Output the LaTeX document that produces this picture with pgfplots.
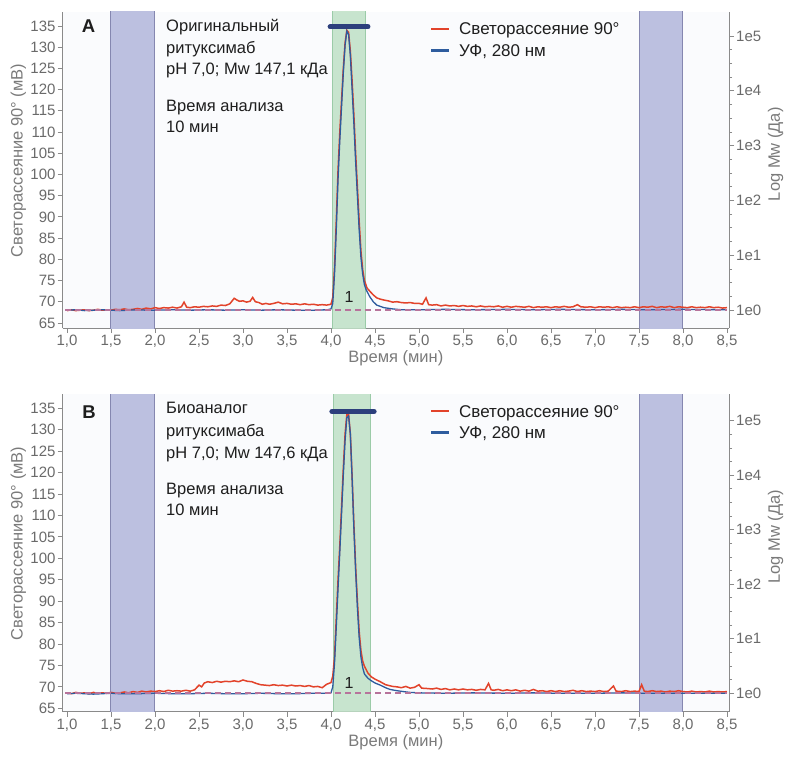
\documentclass[border=0pt]{standalone}
\usepackage{fontspec}
\setmainfont{Liberation Sans}
\usepackage{pgfplots}
\usepackage{pgfplotstable}
\pgfplotsset{compat=1.18}

\definecolor{lsred}{HTML}{E2432B}
\definecolor{uvblue}{HTML}{2E5C9E}
\definecolor{bandfill}{HTML}{BCC0E0}
\definecolor{bandedge}{HTML}{8587B0}
\definecolor{greenfill}{HTML}{BFE0C6}
\definecolor{greenedge}{HTML}{9BCBA8}
\definecolor{mwdash}{HTML}{B7739B}
\definecolor{mwbar}{HTML}{2C3F7C}
\definecolor{axisgray}{HTML}{8A8A8A}
\definecolor{ticktext}{HTML}{6A6A6A}
\definecolor{labelgray}{HTML}{7A7A7A}
\definecolor{textdark}{HTML}{1E1E1E}
\definecolor{plotbg}{HTML}{FAFBFD}

% panel A, light scattering
\pgfplotstableread{
x y
1.00 67.9
1.05 68.1
1.10 67.9
1.15 68.0
1.20 68.1
1.25 67.9
1.30 68.0
1.35 68.2
1.40 68.0
1.45 68.1
1.50 68.0
1.55 68.2
1.60 68.1
1.65 68.3
1.70 68.1
1.75 68.2
1.80 68.4
1.85 68.2
1.90 68.5
1.95 68.3
2.00 68.6
2.05 68.4
2.10 68.6
2.15 68.5
2.20 68.7
2.25 68.5
2.30 68.8
2.33 69.9
2.36 68.7
2.40 68.6
2.45 68.8
2.50 68.7
2.55 68.9
2.60 68.8
2.65 69.0
2.70 68.9
2.75 69.2
2.80 69.1
2.85 69.5
2.90 70.8
2.93 70.4
2.96 70.1
3.00 70.2
3.04 69.9
3.08 70.1
3.11 71.0
3.14 70.0
3.18 69.8
3.22 69.4
3.26 69.6
3.30 69.4
3.35 69.6
3.40 69.9
3.45 69.5
3.50 69.6
3.55 69.4
3.60 69.5
3.65 69.3
3.70 69.5
3.75 69.3
3.80 69.4
3.85 69.2
3.90 69.3
3.95 69.2
4.00 69.4
4.02 71.0
4.04 78.0
4.06 89.0
4.08 101.0
4.10 110.0
4.12 117.5
4.14 125.0
4.16 131.0
4.18 134.0
4.20 133.5
4.22 129.0
4.24 122.0
4.26 114.0
4.28 105.0
4.30 97.0
4.32 89.0
4.34 82.0
4.36 77.5
4.38 75.0
4.41 73.2
4.44 72.5
4.48 71.6
4.52 70.9
4.56 70.6
4.60 70.4
4.65 70.2
4.70 69.9
4.75 70.0
4.80 69.8
4.85 69.7
4.90 69.8
4.95 69.6
5.00 69.6
5.04 69.4
5.08 70.9
5.11 69.3
5.15 69.2
5.20 69.3
5.25 69.0
5.30 69.2
5.35 69.0
5.40 69.1
5.45 68.9
5.50 69.1
5.55 68.9
5.60 69.0
5.65 68.8
5.70 69.0
5.75 68.8
5.80 68.9
5.85 68.8
5.90 69.0
5.95 68.7
6.00 68.9
6.05 68.7
6.10 68.9
6.15 68.8
6.20 68.7
6.25 68.9
6.30 68.6
6.35 68.8
6.40 68.7
6.45 68.8
6.50 68.6
6.55 68.8
6.60 68.7
6.65 68.9
6.70 68.7
6.75 68.8
6.80 69.3
6.84 68.8
6.90 68.7
6.95 68.8
7.00 68.6
7.05 68.8
7.10 68.7
7.15 68.8
7.20 68.6
7.25 68.8
7.30 68.6
7.35 68.7
7.40 68.6
7.45 68.8
7.50 68.6
7.55 68.8
7.60 68.7
7.65 68.9
7.70 68.6
7.75 68.8
7.80 68.7
7.85 68.9
7.90 68.6
7.95 68.8
8.00 68.7
8.05 68.6
8.10 68.8
8.15 68.6
8.20 68.7
8.25 68.6
8.30 68.8
8.35 68.6
8.40 68.7
8.45 68.5
8.50 68.6
}\redA

% panel A, UV 280 nm
\pgfplotstableread{
x y
1.00 68.0
1.10 68.1
1.20 67.9
1.30 68.0
1.40 68.1
1.50 68.0
1.60 67.9
1.70 68.0
1.80 68.1
1.90 68.0
2.00 68.0
2.20 68.1
2.40 68.0
2.60 68.1
2.80 68.0
3.00 68.1
3.20 68.0
3.40 68.1
3.60 68.0
3.80 68.0
3.96 68.1
4.00 68.3
4.02 69.6
4.04 76.5
4.06 87.0
4.08 99.0
4.10 108.0
4.12 116.0
4.14 124.0
4.16 130.5
4.18 133.8
4.20 133.0
4.22 128.0
4.24 120.0
4.26 112.0
4.28 103.0
4.30 95.0
4.32 87.0
4.34 80.5
4.36 76.5
4.38 74.0
4.40 72.8
4.44 71.2
4.48 70.0
4.52 69.2
4.60 68.6
4.70 68.3
4.80 68.1
5.00 68.1
5.30 68.2
5.60 68.1
6.00 68.2
6.30 68.1
6.60 68.2
7.00 68.1
7.30 68.2
7.60 68.1
8.00 68.2
8.50 68.1
}\blueA

% panel B, light scattering
\pgfplotstableread{
x y
1.00 68.6
1.05 68.4
1.10 68.7
1.15 68.5
1.20 68.6
1.25 68.4
1.30 68.7
1.35 68.5
1.40 68.6
1.45 68.5
1.50 68.7
1.55 68.5
1.60 68.6
1.65 68.8
1.70 68.6
1.75 68.9
1.80 68.7
1.85 69.0
1.90 68.8
1.95 69.0
2.00 68.9
2.05 69.1
2.10 68.9
2.15 69.2
2.20 69.0
2.25 69.1
2.30 69.0
2.35 69.2
2.40 69.0
2.45 69.3
2.50 70.4
2.53 70.0
2.56 70.9
2.60 71.2
2.65 71.0
2.70 71.3
2.75 71.1
2.80 71.3
2.85 71.2
2.90 71.4
2.95 71.2
3.00 71.6
3.05 71.3
3.10 71.2
3.15 70.8
3.20 70.5
3.25 70.4
3.30 70.3
3.35 70.5
3.40 70.3
3.45 70.4
3.50 70.2
3.55 70.4
3.60 70.2
3.65 70.3
3.70 70.1
3.75 70.3
3.80 70.0
3.85 70.1
3.90 69.8
3.95 70.6
4.00 71.0
4.02 72.5
4.04 77.0
4.06 86.0
4.08 95.0
4.10 103.0
4.12 112.0
4.14 121.0
4.16 129.0
4.18 133.5
4.20 133.6
4.22 129.0
4.24 119.0
4.26 108.0
4.28 98.0
4.30 90.0
4.32 83.0
4.34 78.5
4.36 76.0
4.38 74.8
4.42 73.2
4.46 72.3
4.50 71.8
4.56 71.2
4.62 70.5
4.70 70.1
4.75 70.0
4.80 69.8
4.85 70.1
4.90 69.7
4.95 69.9
5.00 70.5
5.03 69.7
5.10 69.6
5.15 69.5
5.20 69.7
5.25 69.4
5.30 69.6
5.35 69.3
5.40 69.5
5.45 69.3
5.50 69.5
5.55 69.3
5.60 69.4
5.65 69.2
5.70 69.4
5.75 69.3
5.79 70.8
5.82 69.3
5.85 69.2
5.90 69.4
5.95 69.1
6.00 69.3
6.05 69.1
6.10 69.3
6.15 69.0
6.20 69.2
6.25 69.0
6.30 69.4
6.35 69.0
6.40 69.1
6.45 68.9
6.50 69.1
6.55 68.9
6.60 69.1
6.65 68.9
6.70 69.0
6.75 69.2
6.80 68.9
6.85 69.1
6.90 68.9
6.95 69.0
7.00 68.9
7.05 69.1
7.10 68.9
7.15 69.0
7.21 70.2
7.24 69.0
7.30 68.9
7.35 69.1
7.40 68.9
7.45 69.0
7.50 68.9
7.53 70.5
7.56 69.0
7.60 68.9
7.65 69.1
7.70 68.9
7.75 69.0
7.80 68.8
7.85 69.0
7.90 68.9
7.95 69.1
8.00 68.9
8.05 68.8
8.10 69.0
8.15 68.8
8.20 68.9
8.25 68.8
8.30 69.0
8.35 68.8
8.40 68.9
8.45 68.8
8.50 68.9
}\redB

% panel B, UV 280 nm
\pgfplotstableread{
x y
1.00 68.4
1.10 68.5
1.20 68.4
1.30 68.3
1.40 68.4
1.50 68.5
1.60 68.4
1.80 68.4
2.00 68.5
2.20 68.4
2.40 68.4
2.60 68.5
2.80 68.4
3.00 68.4
3.20 68.5
3.40 68.4
3.60 68.4
3.80 68.5
3.96 68.5
4.00 68.6
4.02 70.0
4.04 75.5
4.06 84.0
4.08 93.0
4.10 101.5
4.12 110.5
4.14 119.5
4.16 127.5
4.18 132.8
4.20 133.2
4.22 129.0
4.24 118.5
4.26 107.0
4.28 97.0
4.30 88.5
4.32 81.5
4.34 77.0
4.36 74.5
4.38 73.0
4.42 72.0
4.46 71.4
4.50 70.9
4.56 70.4
4.62 69.8
4.67 69.4
4.75 69.1
4.82 68.9
4.90 68.7
5.00 68.6
5.30 68.5
5.60 68.6
6.00 68.5
6.30 68.6
6.60 68.5
7.00 68.5
7.30 68.6
7.60 68.5
8.00 68.5
8.50 68.5
}\blueB

\tikzset{paneltext/.style={anchor=base west, font=\fontsize{16.5}{19}\selectfont, text=textdark}}

\pgfplotsset{
  chartbase/.style={
    scale only axis, width=666.3pt,
    xmin=0.951, xmax=8.523,
    tick align=outside, major tick length=5pt, minor tick length=3pt,
    axis line style={axisgray, line width=1pt},
    tick style={axisgray, line width=0.8pt},
    tick label style={font=\fontsize{15}{18}\selectfont, text=ticktext, inner sep=2pt},
    label style={font=\fontsize{16.5}{19}\selectfont, text=labelgray},
    /pgf/number format/assume math mode=true,
  },
  leftax/.style={
    chartbase,
    axis x line*=bottom, axis y line*=left,
    xtick={1,1.5,...,8.5}, ytick={65,70,...,135},
    xticklabel style={/pgf/number format/fixed, /pgf/number format/fixed zerofill,
      /pgf/number format/precision=1, /pgf/number format/use comma},
    axis background/.style={fill=plotbg},
    xlabel={Время (мин)},
    xlabel style={at={(axis description cs:0.5,-0.096)}, anchor=center, inner sep=0pt},
    ylabel={Светорассеяние 90° (мВ)},
    ylabel style={at={(axis description cs:-0.0666,0.53)}, anchor=center},
    legend cell align=left,
    legend style={draw=none, fill=none, at={(axis description cs:0.5512,0.9684)},
      anchor=north west, inner sep=0pt, outer sep=0pt,
      /tikz/row sep=7.5pt, /tikz/column sep=8.7pt,
      font=\fontsize{17}{20}\selectfont,
      nodes={inner sep=0pt, text height=13pt, text depth=1pt, text=textdark}},
    legend image code/.code={\draw[##1, line width=2.5pt, solid] (0pt,0pt) -- (18pt,0pt);},
  },
  rightax/.style={
    chartbase,
    axis x line=none, axis y line*=right,
    ytick={0,1,2,3,4,5}, yticklabels={1e0,1e1,1e2,1e3,1e4,1e5},
    minor y tick num=3,
    ylabel={Log Mw (Да)},
    ylabel style={at={(axis description cs:1.0698,0.55)}, anchor=center},
  },
}

\begin{document}
\begin{tikzpicture}
\path[use as bounding box] (0,0) rectangle (786pt,756pt);

% ---------- panel A ----------
\begin{axis}[leftax, at={(62.7pt,428pt)}, anchor=south west, height=316pt,
  ymin=63.8, ymax=138.3]
\addplot[forget plot, fill=bandfill, draw=bandedge, line width=1pt] coordinates {(1.49,60) (1.49,140) (1.99,140) (1.99,60)} -- cycle;
\addplot[forget plot, fill=bandfill, draw=bandedge, line width=1pt] coordinates {(7.51,60) (7.51,140) (8.00,140) (8.00,60)} -- cycle;
\addplot[forget plot, fill=greenfill, fill opacity=0.85, draw=greenedge, line width=0.8pt] coordinates {(4.015,60) (4.015,140) (4.386,140) (4.386,60)} -- cycle;
\addplot[lsred, line width=1.5pt] table {\redA};
\addlegendentry{Светорассеяние 90°}
\addplot[uvblue, line width=1.3pt] table {\blueA};
\addlegendentry{УФ, 280 нм}
\node[font=\fontsize{18.5}{20}\selectfont\bfseries, text=textdark] at (axis cs:1.245,134.9) {A};
\node[paneltext] at (axis cs:2.0875,133.7) {Оригинальный};
\node[paneltext] at (axis cs:2.0875,128.6) {ритуксимаб};
\node[paneltext] at (axis cs:2.0875,123.5) {pH 7,0; Mw 147,1 кДа};
\node[paneltext] at (axis cs:2.0875,114.8) {Время анализа};
\node[paneltext] at (axis cs:2.0875,109.8) {10 мин};
\node[font=\fontsize{16}{18}\selectfont, text=textdark] at (axis cs:4.205,71.0) {1};
\end{axis}
\begin{axis}[rightax, at={(62.7pt,428pt)}, anchor=south west, height=316pt,
  ymin=-0.328, ymax=5.438]
\addplot[mwdash, line width=2pt, dash pattern=on 6pt off 4pt] coordinates {(0.98,0) (8.5,0)};
\addplot[mwbar, line width=5pt, line cap=round] coordinates {(3.99,5.168) (4.42,5.168)};
\end{axis}

% ---------- panel B ----------
\begin{axis}[leftax, at={(62.7pt,44.3pt)}, anchor=south west, height=317.7pt,
  ymin=64.2, ymax=138.34]
\addplot[forget plot, fill=bandfill, draw=bandedge, line width=1pt] coordinates {(1.49,60) (1.49,140) (1.99,140) (1.99,60)} -- cycle;
\addplot[forget plot, fill=bandfill, draw=bandedge, line width=1pt] coordinates {(7.51,60) (7.51,140) (8.00,140) (8.00,60)} -- cycle;
\addplot[forget plot, fill=greenfill, fill opacity=0.85, draw=greenedge, line width=0.8pt] coordinates {(4.03,60) (4.03,140) (4.45,140) (4.45,60)} -- cycle;
\addplot[lsred, line width=1.5pt] table {\redB};
\addlegendentry{Светорассеяние 90°}
\addplot[uvblue, line width=1.3pt] table {\blueB};
\addlegendentry{УФ, 280 нм}
\node[font=\fontsize{18.5}{20}\selectfont\bfseries, text=textdark] at (axis cs:1.25,134.2) {B};
\node[paneltext] at (axis cs:2.0875,133.8) {Биоаналог};
\node[paneltext] at (axis cs:2.0875,128.4) {ритуксимаба};
\node[paneltext] at (axis cs:2.0875,123.3) {pH 7,0; Mw 147,6 кДа};
\node[paneltext] at (axis cs:2.0875,114.8) {Время анализа};
\node[paneltext] at (axis cs:2.0875,110.1) {10 мин};
\node[font=\fontsize{16}{18}\selectfont, text=textdark] at (axis cs:4.205,71.0) {1};
\end{axis}
\begin{axis}[rightax, at={(62.7pt,44.3pt)}, anchor=south west, height=317.7pt,
  ymin=-0.338, ymax=5.49]
\addplot[mwdash, line width=2pt, dash pattern=on 6pt off 4pt] coordinates {(0.98,0) (8.5,0)};
\addplot[mwbar, line width=5pt, line cap=round] coordinates {(4.01,5.169) (4.49,5.169)};
\end{axis}
\end{tikzpicture}
\end{document}
